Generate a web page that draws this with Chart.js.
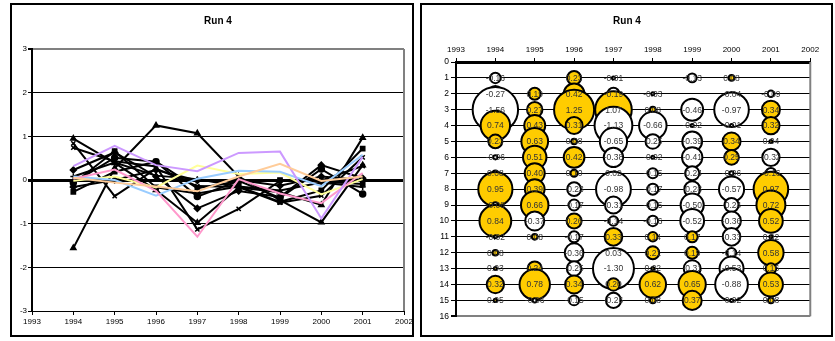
<!DOCTYPE html>
<html>
<head>
<meta charset="utf-8">
<script src="https://cdn.jsdelivr.net/npm/chart.js@4.4.0/dist/chart.umd.min.js"></script>
<style>
  html, body { margin: 0; padding: 0; background: #fff; width: 835px; height: 341px; overflow: hidden; }
  .wrap { position: absolute; top: 0; width: 415px; height: 341px; }
  .panel { position: absolute; border: 2px solid #000; box-sizing: border-box; pointer-events: none; }
</style>
</head>
<body>
<div class="wrap" style="left:0"><canvas id="lineChart"></canvas></div>
<div class="wrap" style="left:420px"><canvas id="bubbleChart"></canvas></div>
<div class="panel" style="left:10px;top:3px;width:404px;height:334px"></div>
<div class="panel" style="left:420px;top:3px;width:413px;height:334px"></div>

<script>
// Years on the horizontal axis and one series per row (1..15)
const years = [1994, 1995, 1996, 1997, 1998, 1999, 2000, 2001];
const axisYears = [1993, 2002];

const s1  = [-0.16,  0.00,  0.23, -0.01,  0.00, -0.13,  0.08,  0.00];
const s2  = [-0.27,  0.19,  0.42, -0.19, -0.03,  0.00, -0.04, -0.09];
const s3  = [-1.56,  0.27,  1.25,  1.07,  0.08, -0.46, -0.97,  0.34];
const s4  = [ 0.74,  0.43,  0.31, -1.13, -0.66, -0.02, -0.01,  0.32];
const s5  = [ 0.23,  0.63,  0.08, -0.65, -0.25, -0.39,  0.34,  0.04];
const s6  = [-0.06,  0.51,  0.42, -0.38, -0.02, -0.41,  0.25, -0.32];
const s7  = [ 0.08,  0.40,  0.10,  0.02, -0.15, -0.24, -0.06, -0.16];
const s8  = [ 0.95,  0.39, -0.23, -0.98, -0.17, -0.28, -0.57,  0.97];
const s9  = [-0.08,  0.66, -0.17, -0.31, -0.15, -0.50, -0.24,  0.72];
const s10 = [ 0.84, -0.37,  0.26, -0.14, -0.16, -0.52, -0.36,  0.52];
const s11 = [-0.02,  0.08, -0.17,  0.33,  0.14,  0.17, -0.33,  0.02];
const s12 = [ 0.08,  0.00, -0.36,  0.03,  0.21,  0.19, -0.14,  0.58];
const s13 = [ 0.03,  0.24, -0.25, -1.30,  0.02, -0.31, -0.53,  0.16];
const s14 = [ 0.32,  0.78,  0.34,  0.20,  0.62,  0.65, -0.88,  0.53];
const s15 = [ 0.05, -0.06, -0.15, -0.26,  0.08,  0.37, -0.02,  0.08];

const rows = [s1, s2, s3, s4, s5, s6, s7, s8, s9, s10, s11, s12, s13, s14, s15];
const titleText = 'Run 4';

Chart.defaults.font.family = '"Liberation Sans", Arial, sans-serif';
Chart.defaults.color = '#000';

// Grey frame on the right side of the plot area
const plotFrame = {
  id: 'plotFrame',
  beforeDatasetsDraw(chart) {
    const { ctx, chartArea: a } = chart;
    ctx.save();
    ctx.strokeStyle = '#808080';
    ctx.lineWidth = 2;
    ctx.beginPath();
    ctx.moveTo(a.right, a.top);
    ctx.lineTo(a.right, a.bottom);
    ctx.stroke();
    ctx.restore();
  }
};

// ---------- line chart ----------
const markerStyles = ['rectRot', 'rect', 'triangle', 'crossRot', 'rectRot', 'circle', 'cross', 'triangle', 'rect', 'crossRot'];
const paleColors = ['#FFFF99', '#99CCFF', '#FF99CC', '#CC99FF', '#FFCC99'];

const lineDatasets = rows.map((vals, i) => ({
  label: 'Series ' + (i + 1),
  data: years.map((yr, j) => ({ x: yr, y: vals[j] })),
  borderColor: i < 10 ? '#000' : paleColors[i - 10],
  borderWidth: 2,
  pointStyle: i < 10 ? markerStyles[i] : false,
  pointRadius: i < 10 ? 3 : 0,
  pointBackgroundColor: '#000',
  pointBorderColor: '#000',
  pointBorderWidth: 1.5,
  tension: 0,
  fill: false,
  order: rows.length - i
}));

new Chart(document.getElementById('lineChart'), {
  type: 'line',
  data: { datasets: lineDatasets },
  options: {
    responsive: true,
    maintainAspectRatio: false,
    animation: false,
    events: [],
    layout: { padding: { left: 15, right: 11, top: 0, bottom: 0 } },
    plugins: {
      legend: { display: false },
      tooltip: { enabled: false },
      title: {
        display: true, text: titleText, color: '#000',
        fullSize: false,
        font: { size: 10, weight: 'bold' },
        padding: { top: 15, bottom: 22 }
      }
    },
    scales: {
      x: {
        type: 'linear', min: axisYears[0], max: axisYears[1], position: 'bottom',
        ticks: { stepSize: 1, color: '#000', font: { size: 8 }, padding: 2, maxRotation: 0, autoSkip: false, callback: v => String(v) },
        grid: { drawOnChartArea: false, drawTicks: true, tickLength: 4, color: '#000' },
        border: { color: '#000', width: 1 },
        afterFit: s => { s.height = 30; }
      },
      y: {
        min: -3, max: 3,
        ticks: { stepSize: 1, color: '#000', font: { size: 8 }, padding: 1 },
        grid: {
          color: c => (c.tick && c.tick.value === 3) ? '#808080' : '#000',
          lineWidth: c => (c.tick && c.tick.value === 0) ? 3 : ((c.tick && c.tick.value === 3) ? 2 : 1),
          tickColor: '#000',
          tickLength: 4
        },
        border: { color: '#000', width: 2 },
        afterFit: s => { s.width = 17; }
      }
    }
  },
  plugins: [plotFrame]
});

// ---------- bubble chart ----------
const bubbleLabels = {
  id: 'bubbleLabels',
  afterDatasetsDraw(chart) {
    const ctx = chart.ctx;
    ctx.save();
    ctx.font = '8.5px "Liberation Sans", Arial, sans-serif';
    ctx.fillStyle = '#333';
    ctx.textAlign = 'center';
    ctx.textBaseline = 'middle';
    chart.data.datasets.forEach((ds, di) => {
      const meta = chart.getDatasetMeta(di);
      meta.data.forEach((pt, pi) => {
        const v = ds.data[pi].v;
        if (v === 0) return;
        ctx.fillText(v.toFixed(2), pt.x, pt.y + 0.5);
      });
    });
    ctx.restore();
  }
};

const bubbleDatasets = years.map((yr, j) => ({
  label: String(yr),
  data: rows.map((vals, i) => ({ x: yr, y: i + 1, v: vals[j] })),
  backgroundColor: c => (c.raw && c.raw.v > 0) ? '#FFCC00' : '#FFFFFF',
  borderColor: '#000',
  borderWidth: 2,
  radius: c => {
    const a = c.raw ? Math.abs(c.raw.v) : 0;
    return a === 0 ? 0 : Math.max(1.5, 20.6 * Math.sqrt(a) - 3);
  }
}));

new Chart(document.getElementById('bubbleChart'), {
  type: 'bubble',
  data: { datasets: bubbleDatasets },
  options: {
    responsive: true,
    maintainAspectRatio: false,
    animation: false,
    events: [],
    layout: { padding: { left: 11, right: 12, top: 0, bottom: 18 } },
    plugins: {
      legend: { display: false },
      tooltip: { enabled: false },
      title: {
        display: true, text: titleText, color: '#000',
        font: { size: 10, weight: 'bold' },
        padding: { top: 15, bottom: 17 }
      }
    },
    scales: {
      x: {
        type: 'linear', min: axisYears[0], max: axisYears[1], position: 'top',
        ticks: { stepSize: 1, color: '#000', font: { size: 8 }, padding: 3, maxRotation: 0, autoSkip: false, callback: v => String(v) },
        grid: { drawOnChartArea: false, drawTicks: true, tickLength: 4, color: '#000' },
        border: { color: '#000', width: 3 },
        afterFit: s => { s.height = 18; }
      },
      y: {
        min: 0, max: 16, reverse: true,
        ticks: { stepSize: 1, color: '#000', font: { size: 8.5 }, padding: 2 },
        grid: {
          color: c => (c.tick && c.tick.value === 16) ? '#808080' : '#000',
          lineWidth: c => (c.tick && c.tick.value === 16) ? 2 : 1,
          tickColor: '#000',
          tickLength: 5
        },
        border: { color: '#000', width: 2 },
        afterFit: s => { s.width = 25; }
      }
    }
  },
  plugins: [plotFrame, bubbleLabels]
});
</script>
</body>
</html>
